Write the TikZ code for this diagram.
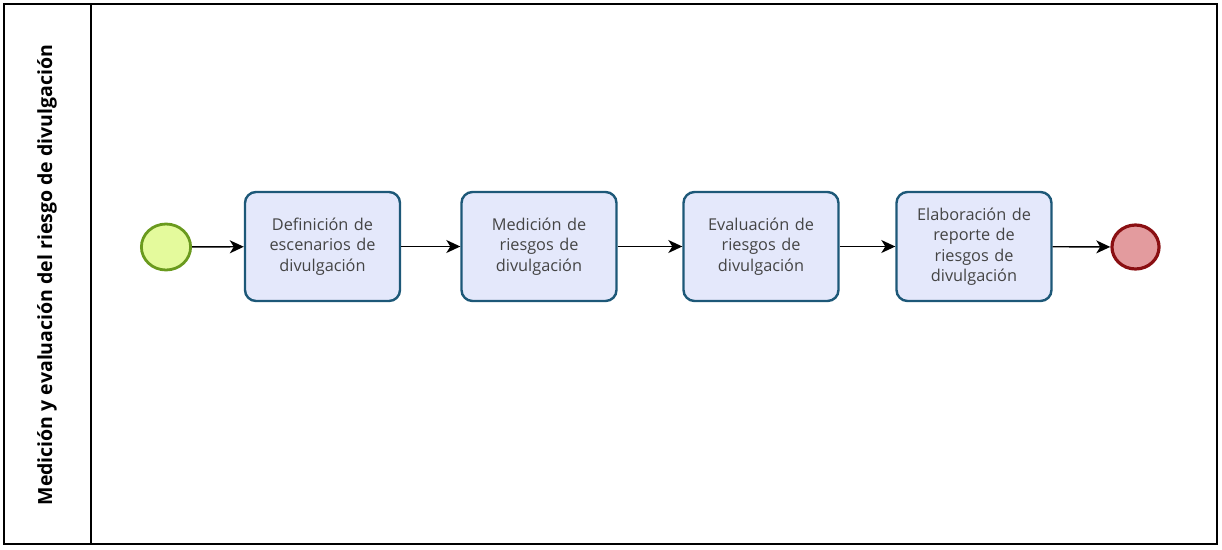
\documentclass[tikz,border=0pt]{standalone}
\usepackage{fontspec}
\setmainfont{Open Sans}
\usetikzlibrary{arrows.meta}
\definecolor{taskfill}{HTML}{E4E8FB}
\definecolor{taskdraw}{HTML}{1D5878}
\definecolor{tasktext}{HTML}{444444}
\definecolor{startfill}{HTML}{E4FA9C}
\definecolor{startdraw}{HTML}{6A9A1E}
\definecolor{endfill}{HTML}{E39B9E}
\definecolor{enddraw}{HTML}{8A0F12}
\tikzset{
  task/.style={draw=taskdraw, fill=taskfill, line width=2.4pt, rounded corners=11pt,
    minimum width=155pt, minimum height=109pt, inner sep=0pt, align=center,
    text=tasktext, font=\fontsize{16.3}{20.5}\selectfont, text width=150pt},
  startev/.style={draw=startdraw, fill=startfill, line width=2.8pt},
  endev/.style={draw=enddraw, fill=endfill, line width=3.2pt},
  flow/.style={line width=1.4pt, -{Stealth[length=14pt, width=13pt, inset=4pt]}}
}
\begin{document}
\begin{tikzpicture}[x=1pt, y=-1pt]
\useasboundingbox (0,0) rectangle (1222,549);
\draw[line width=1.4pt] (4,4) rectangle (1217,544);
\draw[line width=1.4pt] (91,4) -- (91,544);
\node[rotate=90, font=\bfseries\fontsize{19.5}{22}\selectfont] (lane) at (47,275) {Medición y evaluación del riesgo de divulgación};
\node[circle, startev, minimum width=46pt, inner sep=0pt, xscale=1.07] (s) at (166,247) {};
\node[task] (t1) at (322.5,246.5) {Definición de\\escenarios de\\divulgación};
\node[task] (t2) at (539,246.5) {Medición de\\riesgos de\\divulgación};
\node[task] (t3) at (761,246.5) {Evaluación de\\riesgos de\\divulgación};
\node[task] (t4) at (974,246.5) {Elaboración de\\reporte de\\riesgos de\\divulgación};
\node[circle, endev, minimum width=44pt, inner sep=0pt, xscale=1.07] (e) at (1135.5,247) {};
\draw[flow] (s) -- (t1);
\draw[flow] (t1) -- (t2);
\draw[flow] (t2) -- (t3);
\draw[flow] (t3) -- (t4);
\draw[flow] (t4) -- (e);
\end{tikzpicture}
\end{document}
